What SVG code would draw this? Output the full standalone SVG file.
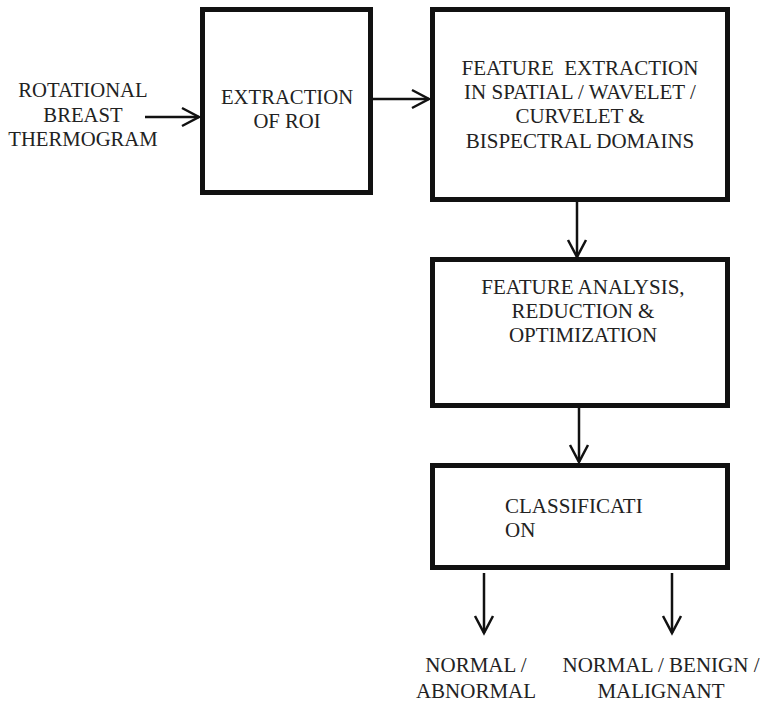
<svg xmlns="http://www.w3.org/2000/svg" width="760" height="714" viewBox="0 0 760 714">
<defs>
<marker id="ah" markerUnits="userSpaceOnUse" viewBox="-20 -12 22 24" refX="0" refY="0" markerWidth="22" markerHeight="24" orient="auto" overflow="visible">
<path d="M-17,-9 L0,0 L-17,9" fill="none" stroke="#111" stroke-width="2.5"/>
</marker>
</defs>
<rect width="760" height="714" fill="#fff"/>
<g id="input">
<text x="83" y="97" font-family="Liberation Serif" font-size="20.7" fill="#222" text-anchor="middle">ROTATIONAL</text>
<text x="83" y="122" font-family="Liberation Serif" font-size="20.7" fill="#222" text-anchor="middle">BREAST</text>
<text x="83" y="146" font-family="Liberation Serif" font-size="20.7" fill="#222" text-anchor="middle">THERMOGRAM</text>
</g>
<g id="roi">
<rect x="202.5" y="9.5" width="168" height="183" fill="#fff" stroke="#111" stroke-width="5"/>
<text x="287" y="104" font-family="Liberation Serif" font-size="20.7" fill="#222" text-anchor="middle">EXTRACTION</text>
<text x="287" y="128" font-family="Liberation Serif" font-size="20.7" fill="#222" text-anchor="middle">OF ROI</text>
</g>
<g id="feature-extraction">
<rect x="432.5" y="9.5" width="295" height="190" fill="#fff" stroke="#111" stroke-width="5"/>
<text x="580" y="75" font-family="Liberation Serif" font-size="21" fill="#222" text-anchor="middle" xml:space="preserve">FEATURE  EXTRACTION</text>
<text x="580" y="99" font-family="Liberation Serif" font-size="21" fill="#222" text-anchor="middle">IN SPATIAL / WAVELET /</text>
<text x="580" y="123" font-family="Liberation Serif" font-size="21" fill="#222" text-anchor="middle">CURVELET &amp;</text>
<text x="580" y="148" font-family="Liberation Serif" font-size="21" fill="#222" text-anchor="middle">BISPECTRAL DOMAINS</text>
</g>
<g id="feature-analysis">
<rect x="432.5" y="259.5" width="295" height="146" fill="#fff" stroke="#111" stroke-width="5"/>
<text x="583" y="294" font-family="Liberation Serif" font-size="21" fill="#222" text-anchor="middle">FEATURE ANALYSIS,</text>
<text x="583" y="318" font-family="Liberation Serif" font-size="21" fill="#222" text-anchor="middle">REDUCTION &amp;</text>
<text x="583" y="342" font-family="Liberation Serif" font-size="21" fill="#222" text-anchor="middle">OPTIMIZATION</text>
</g>
<g id="classification">
<rect x="432.5" y="465.5" width="295" height="102" fill="#fff" stroke="#111" stroke-width="5"/>
<text x="505" y="513" font-family="Liberation Serif" font-size="21" fill="#222">CLASSIFICATI</text>
<text x="505" y="537" font-family="Liberation Serif" font-size="21" fill="#222">ON</text>
</g>
<g id="out1">
<text x="476" y="672" font-family="Liberation Serif" font-size="21" fill="#222" text-anchor="middle">NORMAL /</text>
<text x="476" y="698" font-family="Liberation Serif" font-size="21" fill="#222" text-anchor="middle">ABNORMAL</text>
</g>
<g id="out2">
<text x="661" y="672" font-family="Liberation Serif" font-size="21" fill="#222" text-anchor="middle">NORMAL / BENIGN /</text>
<text x="661" y="698" font-family="Liberation Serif" font-size="21" fill="#222" text-anchor="middle">MALIGNANT</text>
</g>
<g id="connectors" fill="none" stroke="#111" stroke-width="2.5" marker-end="url(#ah)">
<line x1="145" y1="117" x2="199" y2="117"/>
<line x1="373" y1="99" x2="429" y2="99"/>
<line x1="577" y1="202" x2="577" y2="257"/>
<line x1="579" y1="408" x2="579" y2="462"/>
<line x1="484" y1="573" x2="484" y2="633"/>
<line x1="672" y1="573" x2="672" y2="633"/>
</g>
</svg>
